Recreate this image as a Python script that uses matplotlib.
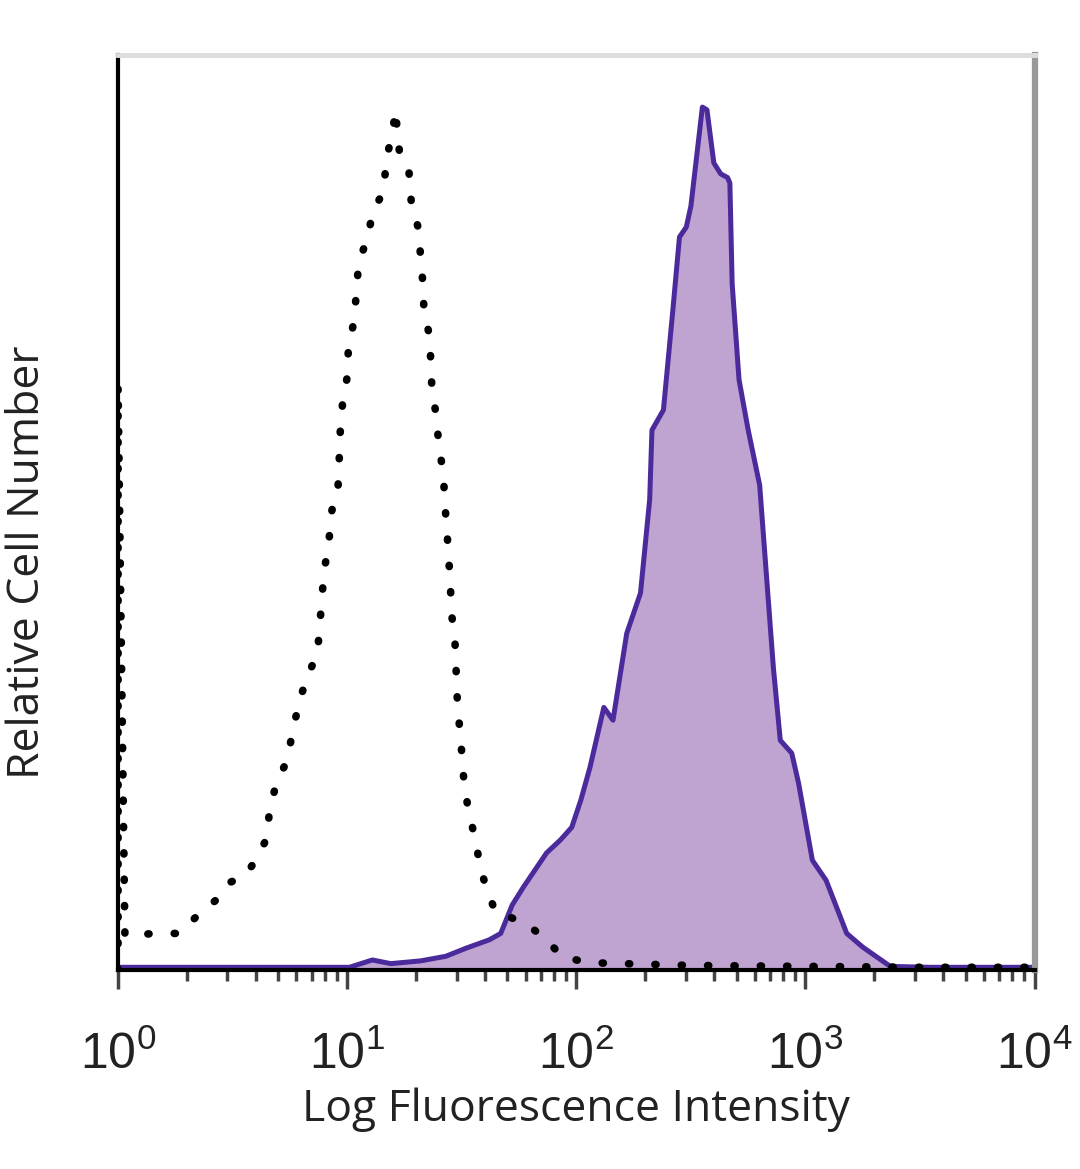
import numpy as np
import matplotlib
matplotlib.use("Agg")
import matplotlib.pyplot as plt
from matplotlib.ticker import LogLocator, NullFormatter

plt.rcParams['mathtext.fontset'] = 'custom'
plt.rcParams['mathtext.rm'] = 'Liberation Sans'
plt.rcParams['mathtext.it'] = 'Liberation Sans'

# stained sample (filled purple), x as log10 of intensity, y as relative count
stain_log = [0.00, 0.36, 0.79, 1.01, 1.11, 1.19, 1.32, 1.43, 1.52, 1.62, 1.67,
             1.72, 1.77, 1.87, 1.93, 1.98, 2.02, 2.06, 2.12, 2.16, 2.22, 2.28,
             2.32, 2.33, 2.38, 2.42, 2.45, 2.48, 2.50, 2.55, 2.57, 2.60, 2.63,
             2.66, 2.67, 2.68, 2.71, 2.75, 2.80, 2.83, 2.86, 2.89, 2.94, 2.97,
             3.03, 3.09, 3.18, 3.25, 3.37, 3.54, 4.00]
stain_val = [0.3, 0.3, 0.3, 0.3, 1.1, 0.7, 1.0, 1.5, 2.4, 3.3, 4.0,
             7.1, 9.1, 12.8, 14.2, 15.6, 18.6, 22.2, 28.7, 27.3, 36.8, 41.2,
             51.4, 59.0, 61.2, 71.8, 80.1, 81.2, 83.5, 94.3, 94.0, 88.2, 87.0,
             86.6, 86.0, 75.0, 64.5, 59.0, 53.0, 43.0, 33.0, 25.1, 23.7, 20.4,
             12.0, 9.8, 4.0, 2.5, 0.4, 0.3, 0.3]

# isotype control (dotted black)
iso_log = [0.00, 0.00, 0.03, 0.17, 0.27, 0.34, 0.43, 0.48, 0.55, 0.61, 0.65,
           0.66, 0.69, 0.74, 0.76, 0.79, 0.82, 0.87, 0.88, 0.89, 0.90, 0.92,
           0.93, 0.96, 0.965, 0.97, 0.98, 1.00, 1.005, 1.03, 1.04, 1.05, 1.09,
           1.11, 1.16, 1.17, 1.20, 1.21, 1.23, 1.27, 1.28, 1.31, 1.32, 1.33,
           1.335, 1.36, 1.365, 1.37, 1.39, 1.40, 1.42, 1.425, 1.435, 1.45,
           1.455, 1.47, 1.475, 1.48, 1.49, 1.50, 1.51, 1.53, 1.56, 1.58, 1.61,
           1.65, 1.71, 1.80, 1.87, 1.94, 2.06, 2.50, 3.00, 3.50, 4.00]
iso_val = [0.0, 64.0, 3.8, 4.0, 4.0, 5.8, 7.7, 9.5, 10.2, 12.3, 14.5,
           17.2, 20.4, 23.0, 25.9, 29.2, 31.7, 34.6, 37.5, 40.8, 43.7, 46.7,
           49.9, 52.8, 55.7, 59.0, 62.0, 64.8, 67.8, 71.0, 74.0, 77.3, 80.1,
           82.7, 85.2, 88.5, 91.8, 94.0, 88.9, 87.1, 83.8, 81.1, 78.1, 75.1,
           72.1, 69.2, 66.3, 63.4, 60.4, 57.2, 54.3, 51.4, 48.1, 42.3,
           39.0, 36.1, 33.0, 29.8, 26.6, 23.7, 20.4, 17.3, 14.2, 11.3, 8.7,
           6.2, 5.8, 4.7, 3.3, 1.4, 0.8, 0.5, 0.4, 0.3, 0.3]

tick_pos = [1, 10, 100, 1000, 10000]
tick_labels = ['$10^{0}$', '$10^{1}$', '$10^{2}$', '$10^{3}$', '$10^{4}$']

stain_x = 10 ** np.array(stain_log)
iso_x = 10 ** np.array(iso_log)

fig = plt.figure(figsize=(10.8, 11.69), dpi=100)
ax = fig.add_axes([0.1093, 0.1702, 0.8487, 0.7828])

ax.fill_between(stain_x, 0, stain_val, color='#bfa3d1', linewidth=0, zorder=1)
ax.plot(stain_x, stain_val, color='#4b2a9c', linewidth=3.6, zorder=2)
ax.plot(iso_x, iso_val, color='black', linewidth=5.5,
        linestyle=(0, (0.15, 3.3)), dash_capstyle='round', zorder=3)

ax.set_xscale('log')
ax.set_xlim(1, 1e4)
ax.set_ylim(0, 100)

ax.set_xticks(tick_pos)
ax.set_xticklabels(tick_labels)
ax.xaxis.set_minor_locator(LogLocator(base=10, subs=np.arange(2, 10), numticks=20))
ax.xaxis.set_minor_formatter(NullFormatter())
ax.tick_params(axis='x', which='major', direction='out', length=14, width=2.5,
               color='#444444', labelsize=36, pad=30, labelcolor='#222222')
ax.tick_params(axis='x', which='minor', direction='out', length=8, width=2.5,
               color='#444444')
ax.set_yticks([])

for side in ['left', 'bottom']:
    ax.spines[side].set_color('black')
    ax.spines[side].set_linewidth(3)
ax.spines['top'].set_color('#dddddd')
ax.spines['top'].set_linewidth(3.5)
ax.spines['right'].set_color('#999999')
ax.spines['right'].set_linewidth(4.5)

ax.set_xlabel('Log Fluorescence Intensity', family='Open Sans', fontsize=32,
              color='#222222')
ax.xaxis.set_label_coords(0.5, -0.128)
ax.set_ylabel('Relative Cell Number', family='Open Sans', fontsize=32,
              color='#222222')
ax.yaxis.set_label_coords(-0.074, 0.446)

fig.savefig('out.png', dpi=100, facecolor='white')
